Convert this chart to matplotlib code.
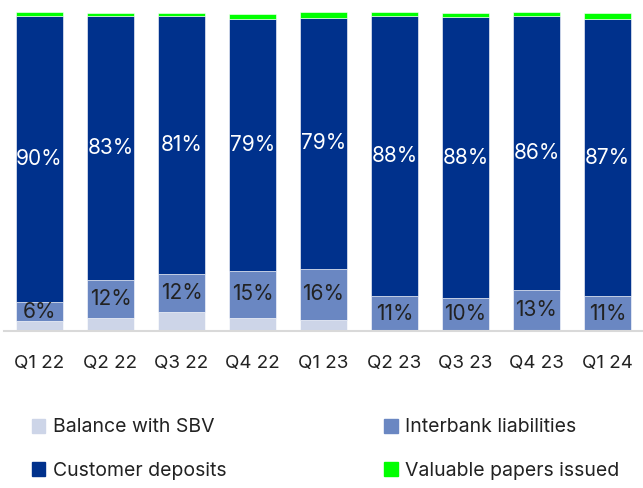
import numpy as np
import matplotlib.pyplot as plt
from matplotlib.patches import Patch

plt.rcParams['font.family'] = ['Inter', 'DejaVu Sans']

# Data (% share of funding)
quarters = ["Q1 22", "Q2 22", "Q3 22", "Q4 22", "Q1 23", "Q2 23", "Q3 23", "Q4 23", "Q1 24"]
balance_sbv = np.array([3, 4, 6, 4, 3.5, 0, 0, 0, 0], dtype=float)
interbank = np.array([6, 12, 12, 15, 16, 11, 10.4, 13, 11], dtype=float)
customer_deposits = np.array([90, 83, 81, 79, 79, 88, 88.3, 86, 87], dtype=float)
valuable_papers = np.array([1.3, 1, 1, 1.7, 1.9, 1.3, 1.3, 1.3, 2], dtype=float)

c_sbv = "#cdd5e8"
c_ib = "#6a87c2"
c_cd = "#00318c"
c_vp = "#00ff00"

fig = plt.figure(figsize=(6.43, 4.88), dpi=100)
ax = fig.add_axes([4 / 643, 157 / 488, 639 / 643, 319 / 488])

x = np.arange(len(quarters))
w = 0.66
bottom = np.zeros(len(quarters))
ax.bar(x, balance_sbv, w, bottom=bottom, color=c_sbv, edgecolor="white", linewidth=0.4)
bottom += balance_sbv
ax.bar(x, interbank, w, bottom=bottom, color=c_ib, edgecolor="white", linewidth=0.4)
for i in range(len(x)):
    ax.text(x[i], bottom[i] + interbank[i] / 2, f"{interbank[i]:.0f}%",
            ha="center", va="center", fontsize=15, color="#222222")
bottom += interbank
ax.bar(x, customer_deposits, w, bottom=bottom, color=c_cd, edgecolor="white", linewidth=0.4)
for i in range(len(x)):
    ax.text(x[i], bottom[i] + customer_deposits[i] / 2, f"{customer_deposits[i]:.0f}%",
            ha="center", va="center", fontsize=15, color="white")
bottom += customer_deposits
ax.bar(x, valuable_papers, w, bottom=bottom, color=c_vp, edgecolor="white", linewidth=0.4)

ax.set_xlim(-0.5, 8.5)
ax.set_ylim(0, 100.3)
ax.set_xticks(x)
ax.set_xticklabels(quarters, fontsize=13.5, color="#222222")
ax.tick_params(axis="x", length=0, pad=17)
ax.set_yticks([])
for s in ["top", "right", "left"]:
    ax.spines[s].set_visible(False)
ax.spines["bottom"].set_color("#d9d9d9")
ax.spines["bottom"].set_linewidth(1.5)

handles = [Patch(color=c_sbv), Patch(color=c_cd), Patch(color=c_ib), Patch(color=c_vp)]
labels = ["Balance with SBV", "Customer deposits", "Interbank liabilities", "Valuable papers issued"]
fig.legend(handles, labels, ncol=2, loc="upper left", bbox_to_anchor=(14 / 643, 1 - 401 / 488),
           frameon=False, fontsize=14, handlelength=0.7, handleheight=0.7,
           handletextpad=0.4, columnspacing=8.1, labelspacing=1.3, labelcolor="#222222")

fig.savefig("out.png", dpi=100)
